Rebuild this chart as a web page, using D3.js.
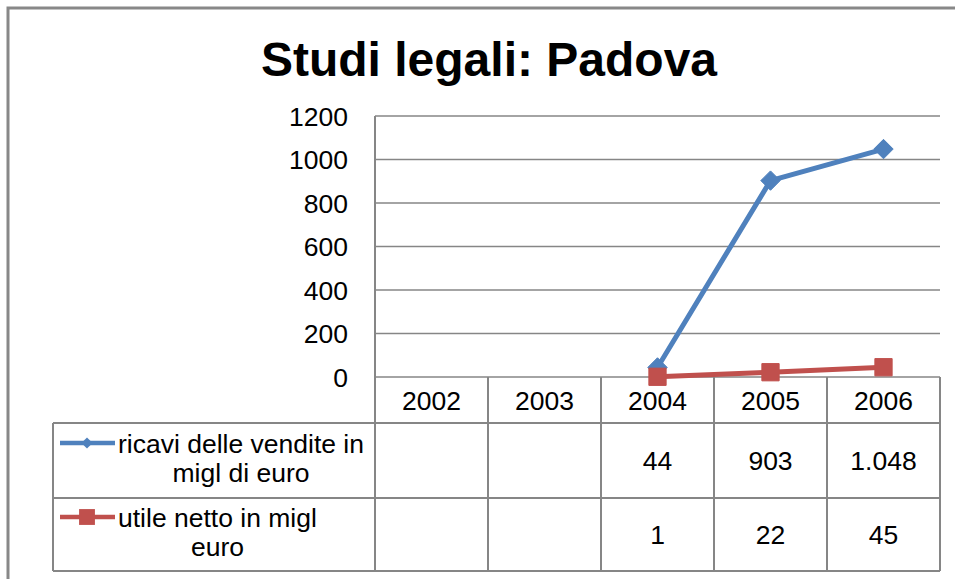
<!DOCTYPE html>
<html>
<head>
<meta charset="utf-8">
<script src="https://cdn.jsdelivr.net/npm/d3@7"></script>
<style>
  body { margin: 0; background: #fff; }
  text { font-family: "Liberation Sans", Arial, sans-serif; fill: #000; }
</style>
</head>
<body>
<svg id="chart"></svg>
<script>
const years = ["2002", "2003", "2004", "2005", "2006"];
const ricavi = [null, null, 44, 903, 1048];
const utile = [null, null, 1, 22, 45];
const yTicks = [0, 200, 400, 600, 800, 1000, 1200];
const seriesNames = [
    ["ricavi delle vendite in", "migl di euro"],
    ["utile netto in migl", "euro"]
];

const W = 955, H = 579;
const grid = "#868686";
const colors = ["#4f81bd", "#c0504d"];
const series = [ricavi, utile];
const fs = "26.5px";

// plot area and data table rows
const plot = {left: 375, right: 940, top: 116, bottom: 377};
const tableLeft = 53;
const rows = [377, 423, 498, 571];

const svg = d3.select("#chart")
    .attr("width", W)
    .attr("height", H);

// outer frame, only top and left are inside the window
svg.append("rect")
    .attr("x", 8).attr("y", 8)
    .attr("width", 1000).attr("height", 1000)
    .attr("fill", "none")
    .attr("stroke", "#888")
    .attr("stroke-width", 3);

// title
svg.append("text")
    .attr("x", 489)
    .attr("y", 76)
    .attr("text-anchor", "middle")
    .style("font-size", "48px")
    .style("font-weight", "bold")
    .text("Studi legali: Padova");

const x = d3.scaleBand()
    .domain(years)
    .range([plot.left, plot.right]);

const y = d3.scaleLinear()
    .domain([0, 1200])
    .range([plot.bottom, plot.top]);

// horizontal gridlines
svg.append("g")
    .selectAll("line")
    .data(yTicks)
    .join("line")
    .attr("x1", plot.left).attr("x2", plot.right)
    .attr("y1", d => y(d)).attr("y2", d => y(d))
    .attr("stroke", grid)
    .attr("stroke-width", 1.5);

// y labels
svg.append("g")
    .selectAll("text")
    .data(yTicks)
    .join("text")
    .attr("x", 348)
    .attr("y", d => y(d))
    .attr("dy", "0.36em")
    .attr("text-anchor", "end")
    .style("font-size", fs)
    .text(d => d);

// data table lines
const tbl = svg.append("g")
    .attr("stroke", grid)
    .attr("stroke-width", 2);

rows.slice(1).forEach(r => {
    tbl.append("line")
        .attr("x1", tableLeft).attr("x2", plot.right)
        .attr("y1", r).attr("y2", r);
});
tbl.append("line")
    .attr("x1", tableLeft).attr("x2", tableLeft)
    .attr("y1", rows[1]).attr("y2", rows[3]);
tbl.append("line")
    .attr("x1", plot.left).attr("x2", plot.left)
    .attr("y1", plot.top).attr("y2", rows[3]);
tbl.selectAll(".col")
    .data(years)
    .join("line")
    .attr("x1", d => x(d) + x.bandwidth()).attr("x2", d => x(d) + x.bandwidth())
    .attr("y1", rows[0]).attr("y2", rows[3]);

// year headers
svg.append("g")
    .selectAll("text")
    .data(years)
    .join("text")
    .attr("x", d => x(d) + x.bandwidth() / 2)
    .attr("y", (rows[0] + rows[1]) / 2)
    .attr("dy", "0.36em")
    .attr("text-anchor", "middle")
    .style("font-size", fs)
    .text(d => d);

const it = d3.formatLocale({decimal: ",", thousands: ".", grouping: [3], currency: ["€", ""]});
const fmt = it.format(",");

// table values
series.forEach((s, i) => {
    const cy = (rows[i + 1] + rows[i + 2]) / 2;
    svg.append("g")
        .selectAll("text")
        .data(years.map((yr, j) => ({yr, v: s[j]})).filter(d => d.v != null))
        .join("text")
        .attr("x", d => x(d.yr) + x.bandwidth() / 2)
        .attr("y", cy)
        .attr("dy", "0.36em")
        .attr("text-anchor", "middle")
        .style("font-size", fs)
        .text(d => fmt(d.v));
});

// lines and markers
const diamond = d3.symbol().type(d3.symbolDiamond2);
const square = d3.symbol().type(d3.symbolSquare2);

series.forEach((s, i) => {
    const pts = years.map((yr, j) => ({yr, v: s[j]})).filter(d => d.v != null);
    const line = d3.line()
        .x(d => x(d.yr) + x.bandwidth() / 2)
        .y(d => y(d.v));
    svg.append("path")
        .datum(pts)
        .attr("fill", "none")
        .attr("stroke", colors[i])
        .attr("stroke-width", 5)
        .attr("d", line);
    svg.append("g")
        .selectAll("path")
        .data(pts)
        .join("path")
        .attr("transform", d => `translate(${x(d.yr) + x.bandwidth() / 2},${y(d.v)})`)
        .attr("d", i === 0 ? diamond.size(240)() : square.size(380)())
        .attr("fill", colors[i])
        .attr("stroke", colors[i])
        .attr("stroke-width", 1);
});

// legend keys in table
const keyY = [443, 517];
seriesNames.forEach((lines, i) => {
    svg.append("line")
        .attr("x1", 60).attr("x2", 115)
        .attr("y1", keyY[i]).attr("y2", keyY[i])
        .attr("stroke", colors[i])
        .attr("stroke-width", 4.5);
    svg.append("path")
        .attr("transform", `translate(87,${keyY[i]})`)
        .attr("d", i === 0 ? diamond.size(80)() : square.size(320)())
        .attr("fill", colors[i]);

    const g = svg.append("g");
    const probe = g.append("text")
        .style("font-size", fs);
    const w = d3.max(lines, l => { probe.text(l); return probe.node().getComputedTextLength(); });
    probe.remove();
    g.selectAll("text")
        .data(lines)
        .join("text")
        .attr("x", 118 + w / 2)
        .attr("y", (d, k) => keyY[i] + 10 + k * 29)
        .attr("text-anchor", "middle")
        .style("font-size", fs)
        .text(d => d);
});
</script>
</body>
</html>
